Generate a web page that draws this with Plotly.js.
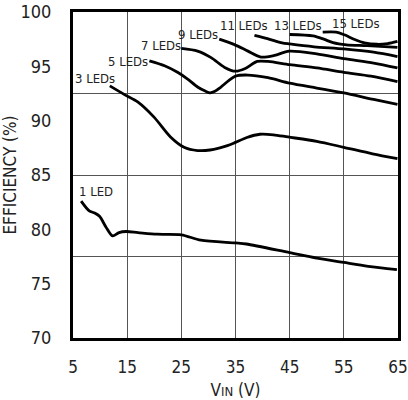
<!DOCTYPE html>
<html>
<head>
<meta charset="utf-8">
<script src="https://cdn.plot.ly/plotly-3.0.1.min.js"></script>
<style>html,body{margin:0;padding:0;background:#fff;}#chart{width:408px;height:400px;}</style>
</head>
<body>
<div id="chart"></div>
<script>
// Series: efficiency (%) vs input voltage (V), for LED string lengths
var seriesNames = ["1 LED", "3 LEDs", "5 LEDs", "7 LEDs", "9 LEDs", "11 LEDs", "13 LEDs", "15 LEDs"];

var vin1 = [6.5, 8.0, 9.0, 9.9, 11.1, 12.3, 13.5, 14.8, 17, 20.5, 25, 28.6, 35, 37, 45, 50, 55, 59.5, 64.8];
var eff1 = [82.6, 81.7, 81.5, 81.2, 80.2, 79.4, 79.7, 79.8, 79.7, 79.55, 79.5, 79.0, 78.75, 78.65, 77.85, 77.35, 76.95, 76.6, 76.3];

var vin3 = [11.8, 14.5, 17, 20, 23, 25.5, 28, 30.3, 33.5, 35, 37.1, 39.5, 42, 44.7, 50, 55, 60.3, 64.9];
var eff3 = [93.2, 92.4, 91.7, 90.3, 88.5, 87.55, 87.25, 87.3, 87.7, 88.0, 88.45, 88.75, 88.7, 88.5, 88.1, 87.55, 86.95, 86.5];

var vin5 = [19.1, 21.9, 24.3, 26.1, 28, 29.5, 30.3, 31.2, 32.2, 33.8, 35, 37.3, 41, 45, 50, 55, 60.5, 64.9];
var eff5 = [95.5, 95.05, 94.45, 93.85, 93.1, 92.7, 92.55, 92.7, 93.05, 93.7, 94.1, 94.2, 93.95, 93.45, 93.0, 92.55, 91.95, 91.5];

var vin7 = [25, 28, 30.5, 33, 35, 36.8, 39, 41, 45, 50, 55, 60, 64.9];
var eff7 = [96.65, 96.4, 95.8, 94.9, 94.55, 94.8, 95.45, 95.45, 95.15, 94.85, 94.45, 94.1, 93.6];

var vin9 = [32, 34.8, 37.3, 39.7, 42.2, 44.9, 50, 55, 60.5, 64.9];
var eff9 = [97.5, 97.0, 96.4, 95.85, 96.0, 96.4, 96.15, 95.7, 95.3, 94.85];

var vin11 = [38.5, 40.9, 43.6, 45, 49.5, 55, 60.5, 64.9];
var eff11 = [97.85, 97.55, 97.16, 97.06, 96.8, 96.6, 96.3, 95.9];

var vin13 = [45, 49.3, 51.3, 53, 55.5, 59.3, 64.9];
var eff13 = [97.93, 97.8, 97.5, 97.18, 96.98, 96.9, 96.75];

var vin15 = [51.1, 53.6, 55.1, 57, 58.8, 61.2, 63.1, 64.9];
var eff15 = [98.15, 98.15, 97.9, 97.47, 97.16, 97.03, 97.1, 97.3];

var xTicks = [5, 15, 25, 35, 45, 55, 65];
var yTicks = [70, 75, 80, 85, 90, 95, 100];
var yGrid = [77.5, 85, 92.5];

var allX = [vin1, vin3, vin5, vin7, vin9, vin11, vin13, vin15];
var allY = [eff1, eff3, eff5, eff7, eff9, eff11, eff13, eff15];

var FONT = "'Liberation Sans Narrow', 'DejaVu Sans Condensed', 'Arial Narrow', sans-serif";

var traces = allX.map(function (xs, i) {
  return {
    x: xs, y: allY[i], name: seriesNames[i],
    type: 'scatter', mode: 'lines',
    line: {color: '#000', width: 2.8, shape: 'spline', smoothing: 0.8},
    showlegend: false, hoverinfo: 'skip'
  };
});

// label placements (data coords)
var labelPos = [[9.3, 83.5], [9.1, 93.9], [15.2, 95.4], [21.2, 96.9], [28.1, 97.9], [36.6, 98.75], [46.6, 98.75], [57.3, 98.9]];
var annotations = seriesNames.map(function (t, i) {
  return {
    x: labelPos[i][0], y: labelPos[i][1], xref: 'x', yref: 'y',
    text: t, showarrow: false, xanchor: 'center', yanchor: 'middle',
    font: {family: FONT, size: 13, color: '#222'}
  };
});

var layout = {
  width: 408, height: 400,
  margin: {l: 73, r: 10, t: 12, b: 62},
  paper_bgcolor: '#fff', plot_bgcolor: '#fff',
  font: {family: FONT, color: '#222'},
  xaxis: {
    range: [5, 65], tickvals: xTicks, ticktext: xTicks.map(String),
    showgrid: true, gridcolor: '#555', gridwidth: 1,
    zeroline: false, ticks: '', ticklabelstandoff: 12, ticklabeloverflow: 'allow',
    showline: true, linecolor: '#000', linewidth: 3, mirror: true,
    tickfont: {family: FONT, size: 17, color: '#222'},
    title: {text: "V<span style='font-size:13px'>IN</span> (V)", font: {family: FONT, size: 17, color: '#222'}, standoff: 8}
  },
  yaxis: {
    range: [70, 100], tickvals: yTicks, ticktext: yTicks.map(String),
    showgrid: false, zeroline: false, ticks: '', ticklabelstandoff: 15, ticklabeloverflow: 'allow',
    minor: {tickvals: yGrid, showgrid: true, gridcolor: '#555', gridwidth: 1, ticks: ''},
    showline: true, linecolor: '#000', linewidth: 3, mirror: true,
    tickfont: {family: FONT, size: 18, color: '#222'},
    title: {text: 'EFFICIENCY (%)', font: {family: FONT, size: 17, color: '#222'}, standoff: 12}
  },
  annotations: annotations
};

Plotly.newPlot('chart', traces, layout, {staticPlot: true, displayModeBar: false});
</script>
</body>
</html>
